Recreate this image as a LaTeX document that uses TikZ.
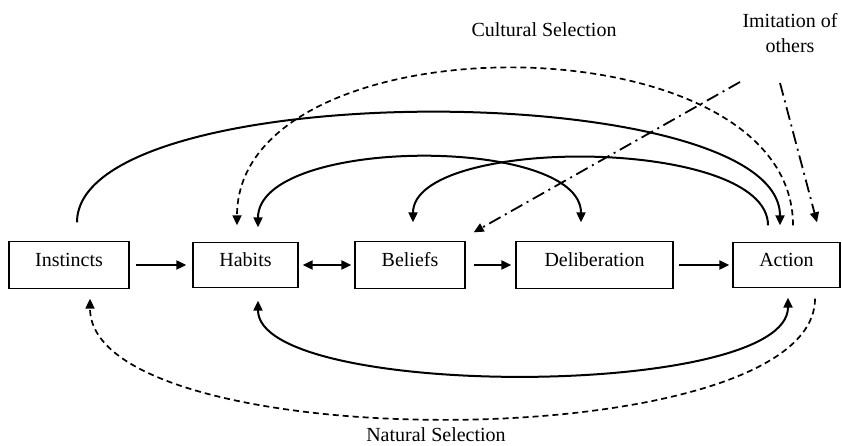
\documentclass[tikz,border=0pt]{standalone}
\usepackage{fontspec}
\setmainfont{Liberation Serif}
\usetikzlibrary{arrows.meta}
\begin{document}
\begin{tikzpicture}[x=1pt, y=1pt,
	font=\fontsize{20}{25}\selectfont,
	>={Triangle[length=10pt,width=9pt]},
	box/.style={draw, line width=1.3pt, minimum height=47pt, text height=14pt, text depth=10pt, inner sep=0pt},
	flow/.style={line width=2pt},
	selection/.style={line width=1.7pt, dash pattern=on 6pt off 4pt},
	imitation/.style={line width=1.8pt, dash pattern=on 13pt off 5pt on 2pt off 5pt}]
	\useasboundingbox (0,0) rectangle (842,446);

	% Boxes %
	\node [box, minimum width=120pt] (instincts) at (69,181) {Instincts};
	\node [box, minimum width=105pt, minimum height=45pt] (habits) at (245.5,181) {Habits};
	\node [box, minimum width=110pt] (beliefs) at (410,181) {Beliefs};
	\node [box, minimum width=157pt] (deliberation) at (594.5,181) {Deliberation};
	\node [box, minimum width=107pt, minimum height=45pt] (action) at (786.5,181) {Action};

	% Labels %
	\node (cultural) at (544,416) {Cultural Selection};
	\node [align=center] (others) at (790,413) {Imitation of\\others};
	\node (natural) at (436,11) {Natural Selection};

	% Chain %
	\draw [->, flow, shorten <=6pt, shorten >=6pt] (instincts) -- (habits);
	\draw [<->, flow, shorten <=4pt, shorten >=3pt] (habits) -- (beliefs);
	\draw [->, flow, shorten <=8pt, shorten >=4pt] (beliefs) -- (deliberation);
	\draw [->, flow, shorten <=5pt, shorten >=3pt] (deliberation) -- (action);

	% Ends above the boxes %
	\coordinate (instincts up) at ([xshift=8pt, yshift=18.5pt]instincts.north);
	\coordinate (habits dash) at ([xshift=-8.5pt, yshift=16.5pt]habits.north);
	\coordinate (habits up) at ([xshift=12.5pt, yshift=14.5pt]habits.north);
	\coordinate (beliefs up) at ([xshift=3pt, yshift=18.5pt]beliefs.north);
	\coordinate (beliefs corner) at ([xshift=8pt, yshift=8.5pt]beliefs.north east);
	\coordinate (deliberation up) at ([xshift=-13.5pt, yshift=18.5pt]deliberation.north);
	\coordinate (action in) at ([xshift=-18.5pt, yshift=16.5pt]action.north);
	\coordinate (action up) at ([xshift=-6.5pt, yshift=16.5pt]action.north);
	\coordinate (action dash) at ([xshift=6.5pt, yshift=16.5pt]action.north);
	\coordinate (action corner) at ([xshift=30.5pt, yshift=19.5pt]action.north);
	\coordinate (imit a) at (740,364);
	\coordinate (imit b) at (780,363);

	% Ends below the boxes %
	\coordinate (instincts down) at ([xshift=21pt, yshift=-9.5pt]instincts.south);
	\coordinate (habits down) at ([xshift=12.5pt, yshift=-12.5pt]habits.south);
	\coordinate (action down) at ([xshift=1.5pt, yshift=-9.5pt]action.south);
	\coordinate (action dash down) at ([xshift=28.5pt, yshift=-10.5pt]action.south);

	% Arcs above %
	\draw [->, flow] (instincts up) .. controls +(0,147) and +(0,149) .. (action up);
	\draw [<->, flow] (habits up) .. controls +(0,91) and +(0,87) .. (deliberation up);
	\draw [->, flow] (action in) .. controls +(0,89) and +(0,87) .. (beliefs up);
	\draw [->, selection] (action dash) .. controls +(0,209) and +(0,209) .. (habits dash);

	% Imitation of others %
	\draw [->, imitation] (imit a) -- (beliefs corner);
	\draw [->, imitation] (imit b) -- (action corner);

	% Arcs below %
	\draw [<->, flow] (habits down) .. controls +(0,-99) and +(0,-102) .. (action down);
	\draw [->, selection] (action dash down) .. controls +(0,-160) and +(0,-160) .. (instincts down);
\end{tikzpicture}
\end{document}
